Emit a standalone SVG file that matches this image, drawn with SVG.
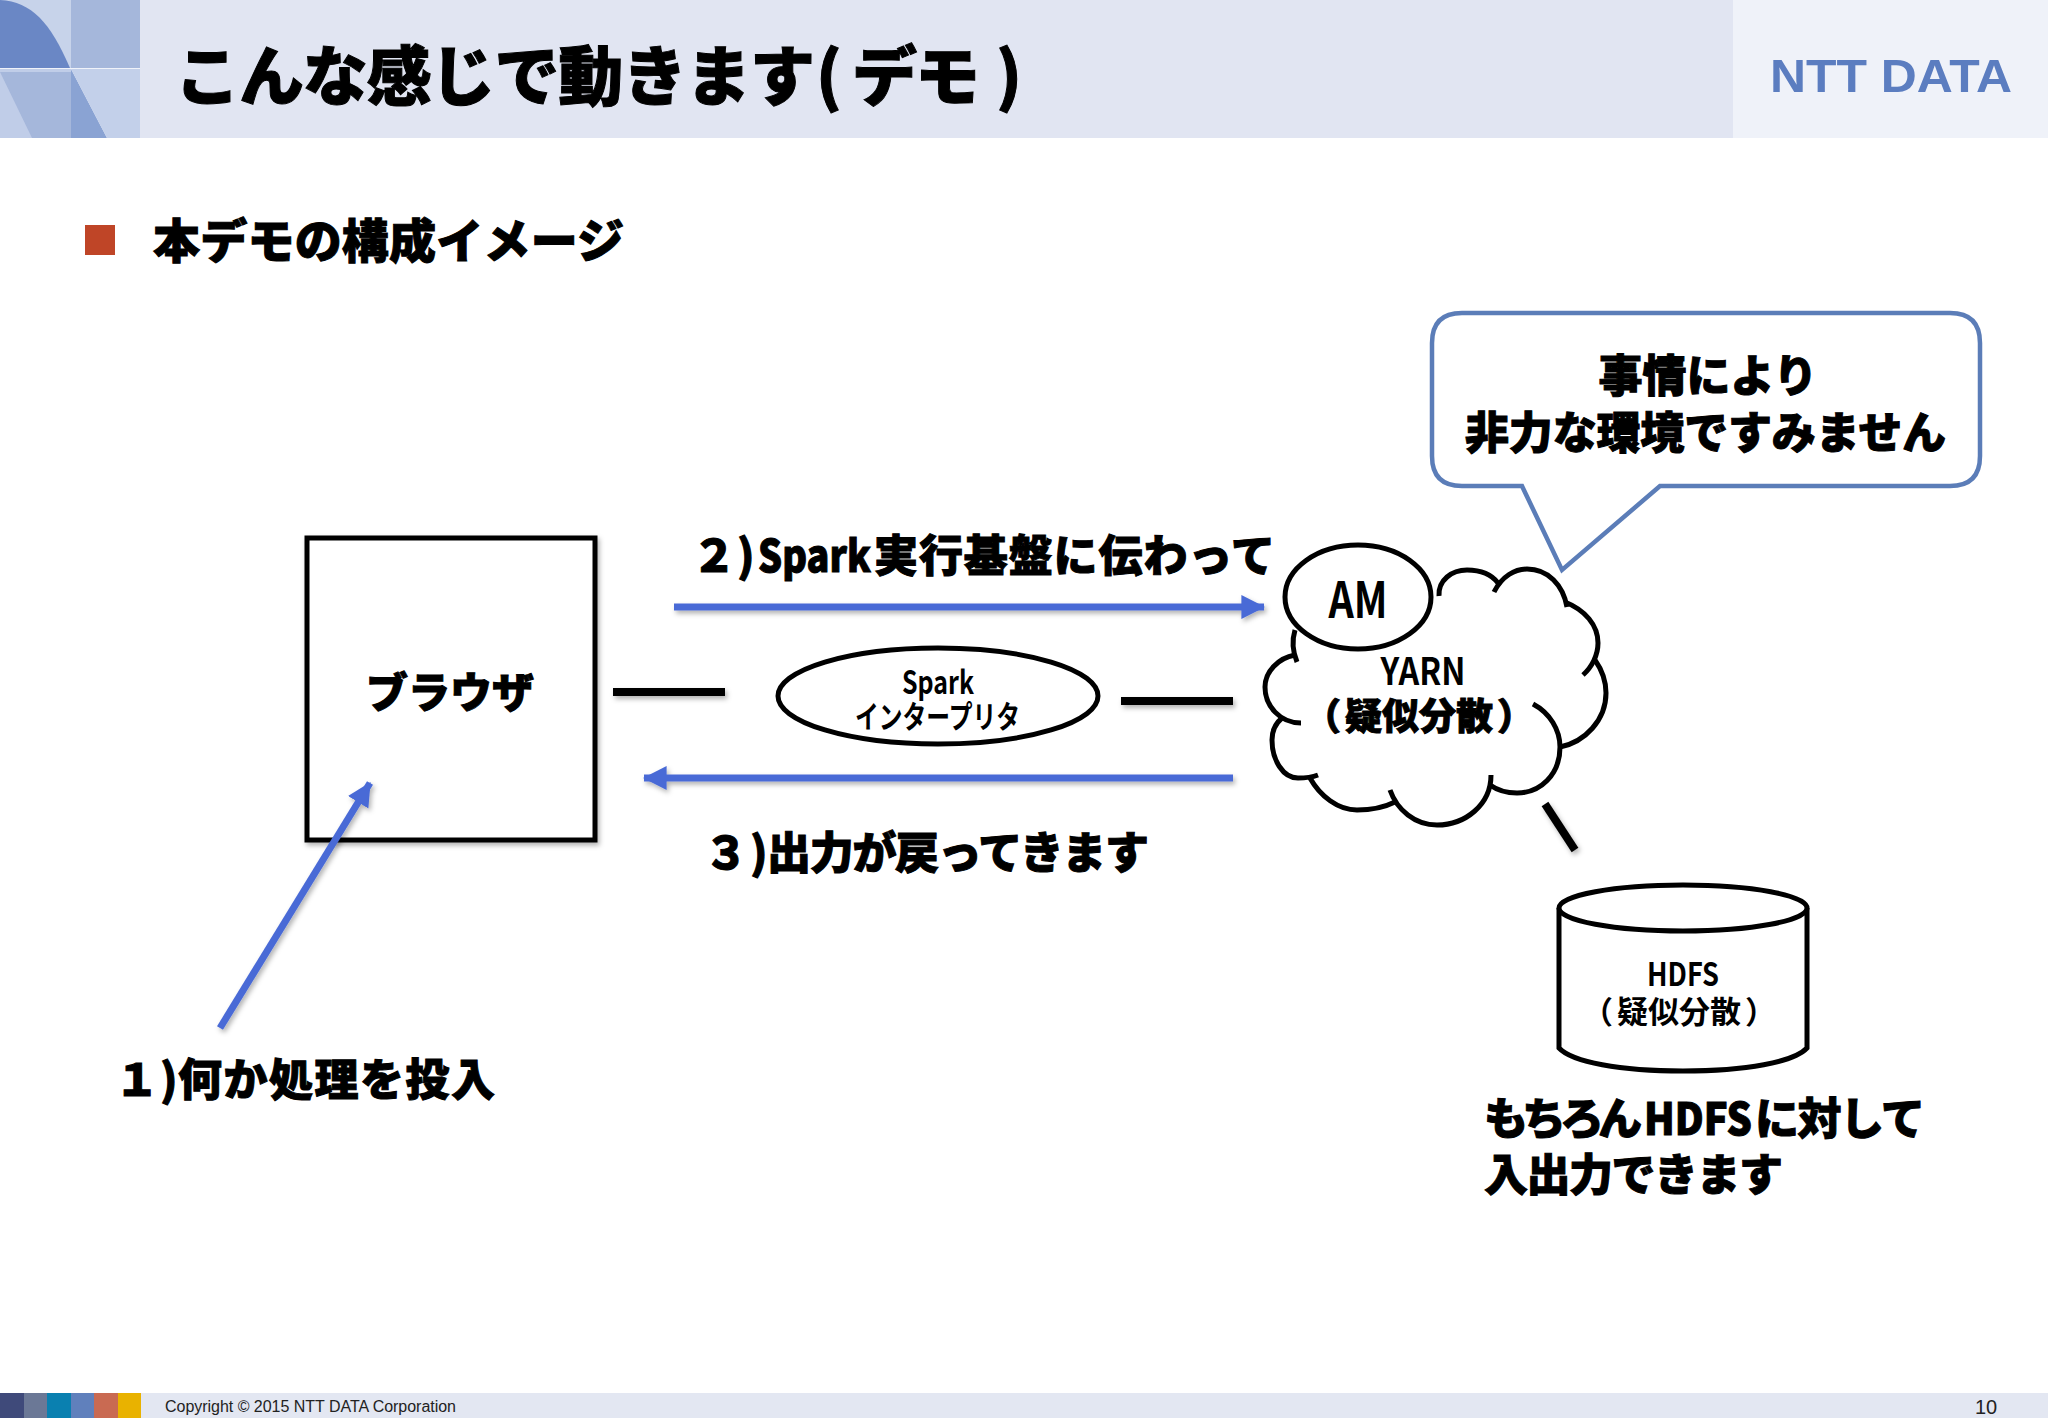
<svg xmlns="http://www.w3.org/2000/svg" width="2048" height="1418" viewBox="0 0 2048 1418">
<style>
text{font-family:"Noto Sans CJK JP","Noto Sans CJK SC",sans-serif;font-weight:700;fill:#000}
.h{font-weight:900;stroke:#000;stroke-width:1}
.b{fill:none;stroke:#000;stroke-width:8;filter:url(#s)}
.c{fill:none;stroke:#000;stroke-width:5}
.n{fill:#fff;stroke:#000;stroke-width:5}
.a{fill:none;stroke:#4a6bd6;stroke-width:7;filter:url(#s)}
.m{text-anchor:middle}
</style>
<defs>
<filter id="s" filterUnits="userSpaceOnUse" x="0" y="0" width="2048" height="1418"><feDropShadow dx="2" dy="3" stdDeviation="2.5" flood-color="#000" flood-opacity=".3"/></filter>
<marker id="ar" viewBox="0 0 10 10" refX="9.5" refY="5" markerWidth="3.4" markerHeight="3.6" orient="auto"><path d="M0 0L10 5L0 10z" fill="#4a6bd6"/></marker>
</defs>
<rect width="2048" height="1418" fill="#fff"/>
<g id="header">
<rect x="0" y="0" width="2048" height="138" fill="#eff2f9"/>
<rect x="140" y="0" width="1593" height="138" fill="#e1e5f2"/>
<rect x="0" y="0" width="71" height="68" fill="#c7d3ea"/>
<rect x="71" y="0" width="69" height="68" fill="#a5b7db"/>
<path d="M0 0C32 2 50 22 70 68H0z" fill="#6a87c5"/>
<rect x="0" y="69" width="71" height="69" fill="#c0cde8"/>
<path d="M0 72H71V138H32z" fill="#a5b7db"/>
<path d="M71 69L107 138H71z" fill="#8aa3d3"/>
<path d="M71 69H140V138H107z" fill="#c3d0ea"/>
<text class="h" y="100" font-size="65"><tspan x="175" textLength="640">こんな感じで動きます</tspan><tspan x="816">(</tspan><tspan x="852" textLength="128">デモ</tspan><tspan x="996">)</tspan></text>
<text x="1770" y="92" font-size="47" textLength="242" lengthAdjust="spacingAndGlyphs" style="font-family:'Liberation Sans',sans-serif;font-weight:700;fill:#5b7dc0">NTT DATA</text>
</g>
<g id="subtitle">
<rect x="85" y="225" width="30" height="30" fill="#bf4527"/>
<text class="h" x="153" y="258" font-size="47" textLength="471" lengthAdjust="spacing">本デモの構成イメージ</text>
</g>
<g id="browser">
<rect class="n" x="307" y="538" width="288" height="302" style="filter:url(#s)"/>
<text class="h m" x="450" y="708" font-size="42">ブラウザ</text>
</g>
<g id="callout">
<path d="M1462 313H1950Q1980 313 1980 343V456Q1980 486 1950 486H1660L1562 570L1522 486H1462Q1432 486 1432 456V343Q1432 313 1462 313z" fill="#fff" stroke="#5b7db8" stroke-width="4.5"/>
<text class="h m" x="1708" y="392" font-size="44">事情により</text>
<text class="h" x="1465" y="449" font-size="44" textLength="481" lengthAdjust="spacing">非力な環境ですみません</text>
</g>
<g id="labels">
<text class="h" y="572" font-size="44"><tspan x="692">２</tspan><tspan x="737">)</tspan><tspan x="758" textLength="113" lengthAdjust="spacingAndGlyphs">Spark</tspan><tspan x="874" textLength="401">実行基盤に伝わって</tspan></text>
<text class="h" y="869" font-size="44"><tspan x="704">３</tspan><tspan x="750">)</tspan><tspan x="767" textLength="382">出力が戻ってきます</tspan></text>
<text class="h" y="1096" font-size="44"><tspan x="115">１</tspan><tspan x="160">)</tspan><tspan x="178" textLength="317">何か処理を投入</tspan></text>
<text class="h" y="1135" font-size="44"><tspan x="1484" textLength="158">もちろん</tspan><tspan x="1644" textLength="108" lengthAdjust="spacingAndGlyphs">HDFS</tspan><tspan x="1755" textLength="170">に対して</tspan></text>
<text class="h" x="1484" y="1191" font-size="44" textLength="299" lengthAdjust="spacing">入出力できます</text>
</g>
<g id="spark">
<ellipse class="n" cx="938" cy="696" rx="160" ry="48"/>
<text class="m" x="938" y="694" font-size="32" textLength="72" lengthAdjust="spacingAndGlyphs">Spark</text>
<text x="855" y="728" font-size="31" textLength="165" lengthAdjust="spacingAndGlyphs">インタープリタ</text>
</g>
<g id="yarn">
<path class="c" d="M1439 596C1438 580 1452 570 1467 570C1482 570 1492 575 1498 583"/>
<path class="c" d="M1494 592C1502 576 1515 569 1527 569C1548 569 1563 585 1567 607"/>
<path class="c" d="M1565 602C1585 610 1598 625 1598 643C1598 655 1592 667 1583 675"/>
<path class="c" d="M1595 660C1602 670 1606 682 1606 693C1606 720 1585 742 1560 747"/>
<path class="c" d="M1533 704C1550 713 1560 730 1560 747C1560 775 1540 793 1517 793C1507 793 1497 790 1490 785"/>
<path class="c" d="M1491 775C1491 805 1465 825 1437 825C1415 825 1397 810 1390 790"/>
<path class="c" d="M1395 802C1383 808 1370 810 1357 810C1338 810 1320 796 1310 778"/>
<path class="c" d="M1318 775C1310 778 1304 778 1298 778C1283 778 1272 760 1272 740C1272 730 1276 723 1282 718"/>
<path class="c" d="M1301 723C1280 723 1265 706 1265 687C1265 672 1278 658 1295 655"/>
<path class="c" d="M1297 662C1292 650 1292 640 1295 630"/>
<text class="m" x="1423" y="685" font-size="38" textLength="85" lengthAdjust="spacingAndGlyphs">YARN</text>
<text class="h m" x="1423" y="730" font-size="37"><tspan dx="-4">（</tspan><tspan dx="4">疑似分散</tspan><tspan dx="4">）</tspan></text>
</g>
<g id="am">
<ellipse class="c" cx="1358" cy="597" rx="73" ry="52" style="fill:#fff"/>
<text class="m" x="1358" y="618" font-size="50" textLength="59" lengthAdjust="spacingAndGlyphs">AM</text>
</g>
<g id="hdfs">
<path class="n" d="M1559 908V1048C1572 1062 1620 1071 1683 1071S1794 1062 1807 1048V908"/>
<ellipse class="n" cx="1683" cy="908" rx="124" ry="23"/>
<text class="m" x="1683" y="986" font-size="32" textLength="72" lengthAdjust="spacingAndGlyphs">HDFS</text>
<text class="m" x="1683" y="1023" font-size="31"><tspan dx="-4">（</tspan><tspan dx="4">疑似分散</tspan><tspan dx="4">）</tspan></text>
</g>
<g id="connectors">
<path class="a" d="M674 607H1264" marker-end="url(#ar)"/>
<path class="a" d="M1233 778H644" marker-end="url(#ar)"/>
<path class="a" d="M220 1028L370 783" marker-end="url(#ar)"/>
<path class="b" d="M613 692H725"/>
<path class="b" d="M1121 701H1233"/>
<path class="b" d="M1545 804L1575 850"/>
</g>
<g id="footer">
<rect x="0" y="1393" width="2048" height="25" fill="#e3e7f2"/>
<rect x="0" y="1393" width="24" height="25" fill="#3f4a7a"/>
<rect x="24" y="1393" width="23" height="25" fill="#6b7896"/>
<rect x="47" y="1393" width="24" height="25" fill="#0a80b0"/>
<rect x="71" y="1393" width="23" height="25" fill="#6080bc"/>
<rect x="94" y="1393" width="24" height="25" fill="#c96a52"/>
<rect x="118" y="1393" width="23" height="25" fill="#e9b200"/>
<text x="165" y="1412" font-size="16" textLength="291" style="font-family:'Liberation Sans',sans-serif;font-weight:400;fill:#222">Copyright © 2015 NTT DATA Corporation</text>
<text x="1975" y="1414" font-size="20" style="font-family:'Liberation Sans',sans-serif;font-weight:400;fill:#222">10</text>
</g>
</svg>
